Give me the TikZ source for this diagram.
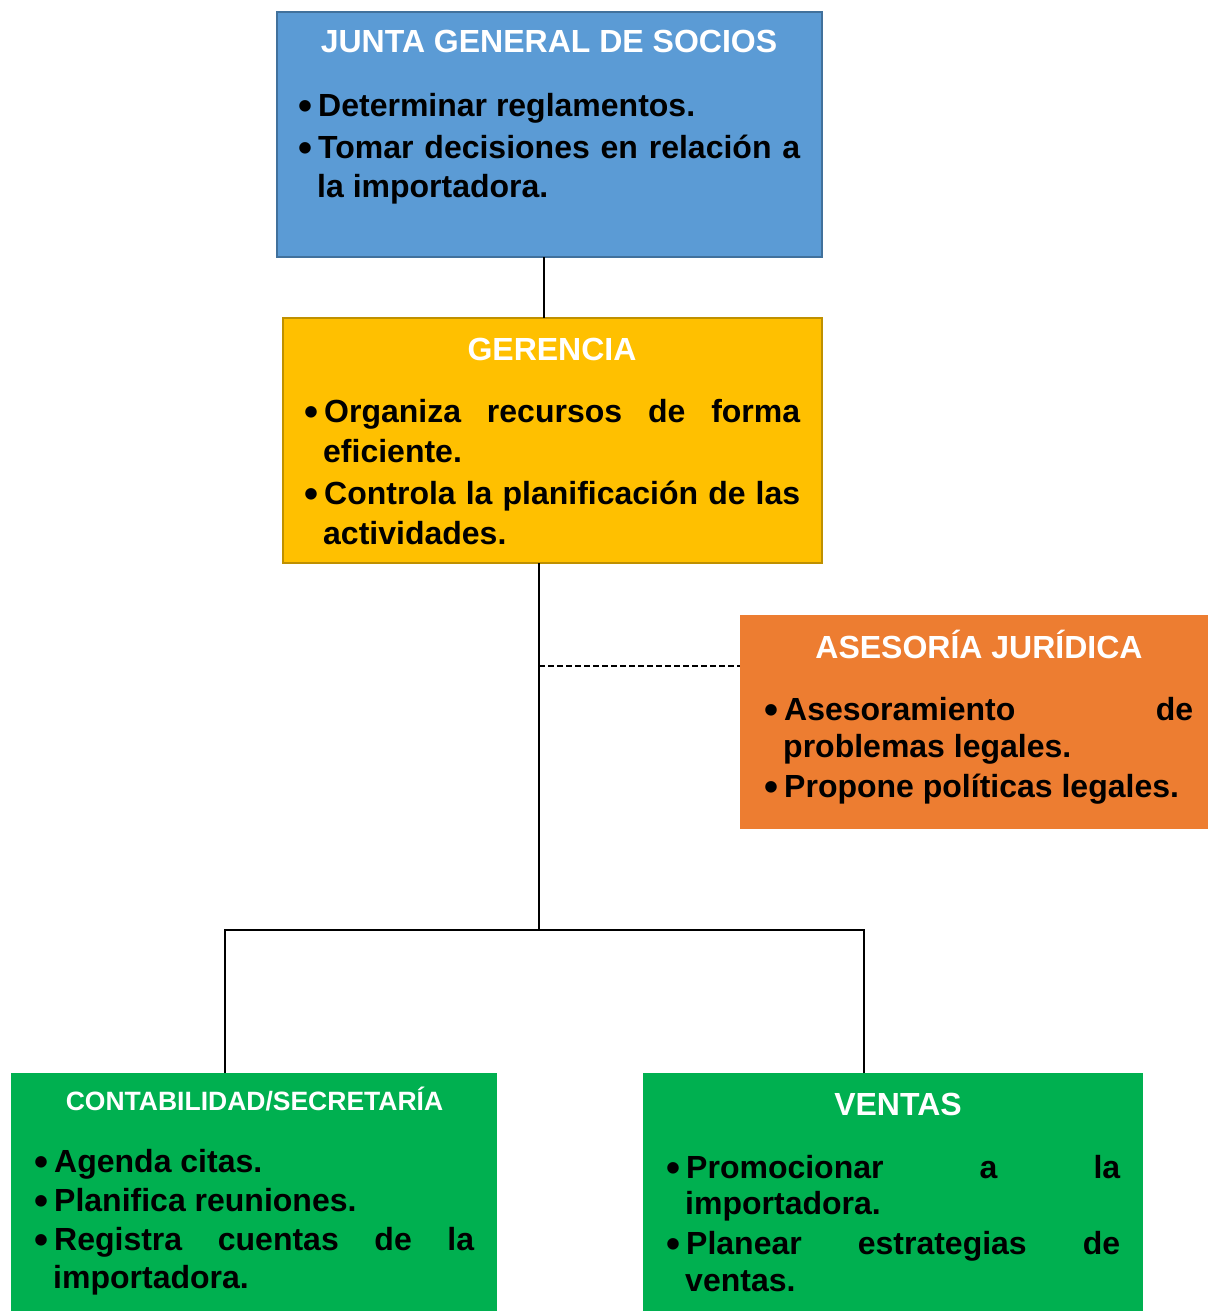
\documentclass[tikz,border=0pt]{standalone}
\usepackage{fontspec}
\setmainfont{Liberation Sans}[Ligatures=NoCommon]
\usepackage{enumitem}
\usetikzlibrary{positioning}

\definecolor{juntaBlue}{HTML}{5B9BD5}
\definecolor{juntaEdge}{HTML}{41719C}
\definecolor{gerenciaGold}{HTML}{FFC000}
\definecolor{gerenciaEdge}{HTML}{BF9000}
\definecolor{asesoriaOrange}{HTML}{ED7D31}
\definecolor{areaGreen}{HTML}{00B050}

\newcommand{\headFont}{\fontsize{32}{38}\selectfont\bfseries}
\newcommand{\smallHeadFont}{\fontsize{26.5}{32}\selectfont\bfseries}
\newcommand{\itemFont}[1]{\fontsize{32}{#1}\selectfont\bfseries\hyphenpenalty=10000\tolerance=10000}
\newcommand{\dutyBullet}{\raisebox{-3pt}{\fontsize{40}{40}\selectfont\textbullet}}

\newlist{duties}{itemize}{1}
\setlist[duties]{label=\dutyBullet, align=left, leftmargin=19pt, labelwidth=13pt, labelsep=6pt, labelindent=0pt, topsep=0pt, partopsep=0pt, parsep=0pt}

% list of duties: width, line skip, item gap, items
% first baseline is the reference point
\newcommand{\dutyList}[4]{\begin{minipage}[t]{#1pt}\itemFont{#2}\begin{duties}[itemsep=#3pt]#4\end{duties}\end{minipage}}

\tikzstyle{unitBox} = [rectangle, anchor=north west, inner sep=0pt, outer sep=0pt, line width=2pt]
\tikzstyle{unitTitle} = [text=white, font=\headFont, anchor=base, inner sep=0pt]
\tikzstyle{unitDuties} = [anchor=base west, inner sep=0pt]
\tikzstyle{chartLine} = [black, line width=2.8pt]

\begin{document}
\begin{tikzpicture}[x=1pt, y=-1pt]
\useasboundingbox (0,0) rectangle (1207,1311);

% boxes
\node[unitBox, fill=juntaBlue, draw=juntaEdge, minimum width=545, minimum height=245] (junta) at (277,12) {};
\node[unitBox, fill=gerenciaGold, draw=gerenciaEdge, minimum width=539, minimum height=245] (gerencia) at (283,318) {};
\node[unitBox, fill=asesoriaOrange, minimum width=470, minimum height=214] (asesoria) at (740,615) {};
\node[unitBox, fill=areaGreen, minimum width=486, minimum height=240] (conta) at (11,1073) {};
\node[unitBox, fill=areaGreen, minimum width=500, minimum height=240] (ventas) at (643,1073) {};

% titles
\node[unitTitle] (juntaTitle) at (549,53) {JUNTA GENERAL DE SOCIOS};
\node[unitTitle] (gerenciaTitle) at (552,360) {GERENCIA};
\node[unitTitle] (asesoriaTitle) at (979,658) {ASESORÍA JURÍDICA};
\node[unitTitle, font=\smallHeadFont] (contaTitle) at (254.5,1110) {CONTABILIDAD/SECRETARÍA};
\node[unitTitle] (ventasTitle) at (898,1115) {VENTAS};

% duties
\node[unitDuties] (juntaDuties) at (298,117) {\dutyList{502}{39.5}{2}{%
  \item Determinar reglamentos.
  \item Tomar decisiones en relación a\linebreak la importadora.}};
\node[unitDuties] (gerenciaDuties) at (304,422) {\dutyList{496}{40}{2}{%
  \item Organiza recursos de forma\linebreak eficiente.
  \item Controla la planificación de las\linebreak actividades.}};
\node[unitDuties] (asesoriaDuties) at (764,720) {\dutyList{429}{37.5}{2.5}{%
  \item Asesoramiento de\linebreak problemas legales.
  \item Propone políticas legales.}};
\node[unitDuties] (contaDuties) at (34,1172) {\dutyList{440}{38}{1}{%
  \item Agenda citas.
  \item Planifica reuniones.
  \item Registra cuentas de la\linebreak importadora.}};
\node[unitDuties] (ventasDuties) at (666,1178) {\dutyList{454}{36.5}{3.5}{%
  \item Promocionar a la\linebreak importadora.
  \item Planear estrategias de\linebreak ventas.}};

% connectors
\coordinate (topLink) at (544,0);
\coordinate (trunk) at (539,930);
\coordinate (legal) at (539,666);
\coordinate (busLeft) at (225,930);
\coordinate (busRight) at (864,930);
\draw[chartLine] (junta.south -| topLink) -- (gerencia.north -| topLink);
\draw[chartLine] (gerencia.south -| trunk) -- (trunk);
\draw[chartLine, line width=2.6pt, dash pattern=on 6pt off 3pt] (legal) -- (legal -| asesoria.west);
\draw[chartLine, line cap=rect] (busLeft) -- (busRight);
\draw[chartLine] (busLeft) -- (conta.north -| busLeft);
\draw[chartLine] (busRight) -- (ventas.north -| busRight);
\end{tikzpicture}
\end{document}
